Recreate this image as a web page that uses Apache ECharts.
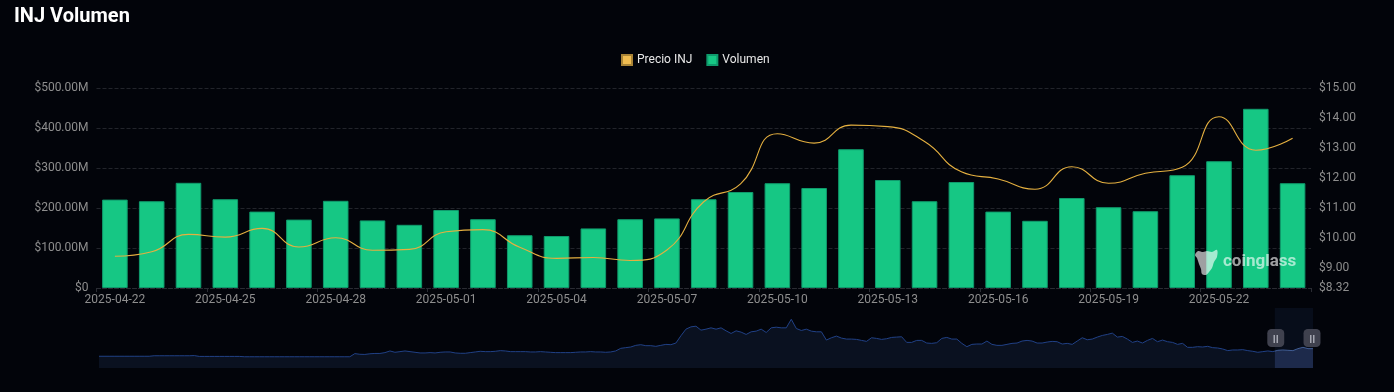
<!DOCTYPE html>
<html><head><meta charset="utf-8">
<style>html,body{margin:0;padding:0;background:#02040a}#c{width:1394px;height:392px}</style>
<script src="https://cdn.jsdelivr.net/npm/echarts@6/dist/echarts.min.js"></script>
</head><body><div id="c"></div>
<script>
const categories = ['2025-04-22','2025-04-23','2025-04-24','2025-04-25','2025-04-26','2025-04-27','2025-04-28','2025-04-29','2025-04-30','2025-05-01','2025-05-02','2025-05-03','2025-05-04','2025-05-05','2025-05-06','2025-05-07','2025-05-08','2025-05-09','2025-05-10','2025-05-11','2025-05-12','2025-05-13','2025-05-14','2025-05-15','2025-05-16','2025-05-17','2025-05-18','2025-05-19','2025-05-20','2025-05-21','2025-05-22','2025-05-23','2025-05-24'];
const volumeM = [221,217,263,222,191,171,218,169,158,195,172,132,130,149,172,174,222,240,262,250,347,270,217,265,191,168,225,202,192,282,317,448,262];
const priceUSD = [9.38,9.53,10.11,10.02,10.31,9.69,10.0,9.58,9.61,10.2,10.27,9.68,9.31,9.34,9.24,9.59,11.2,11.8,13.47,13.16,13.76,13.71,13.21,12.2,11.96,11.62,12.37,11.82,12.15,12.35,14.04,12.92,13.32];
const rightTicks = [8.32,9,10,11,12,13,14,15];
const overviewIndex = [
26,26,26,26,26,26,26,26,26,26,26,
27.5,27.5,27.5,27.5,27.5,27.5,27.5,27.5,28,
25.5,25.5,25.5,25.5,25.5,25.5,25.5,25.5,25.5,
24.5,24.5,24.5,24.5,24.5,24.5,24.5,24.5,24.5,24.5,24.5,24.5,24.5,24.5,24.5,24.5,24.5,24.5,24.5,24.5,24.5,24.5,
34,32,31.5,33.5,34.5,34.5,37,42,
38,40,42,40,38,36,36,37,36,38,39,39,36,35,35,37,39,41,40,40,41,43,42,40,
40,40,40,39,39,40,39,38,37,37,37,37,38,39,39,40,39,39,38,39,42,50,52,54,59,61,58,58,56,59,62,61,66,88,
108,115,117,105,108,112,108,112,103,95,103,99,92,100,102,108,98,112,114,112,112,138,110,104,108,102,100,100,75,82,87,81,78,78,77,74,71,82,80,77,79,83,84,85,68,68,74,74,66,65,67,80,83,78,78,65,55,
62,63,63,72,62,59,59,62,65,66,72,74,72,66,66,69,71,70,63,65,62,72,82,76,78,84,89,92,96,84,86,78,68,72,66,74,80,70,75,70,68,62,65,53,53,55,54,56,52,51,48,43,45,45,46,43,41,38,40,
42,40,44,45,44,43,49,53,49,49];
const overviewSteps = overviewIndex.map((_, i) => String(i));
const FONT = 'Roboto, sans-serif';
const handle = 'path://M4,0 H12 A4,4 0 0 1 16,4 V13 A4,4 0 0 1 12,17 H4 A4,4 0 0 1 0,13 V4 A4,4 0 0 1 4,0 Z';
const chart = echarts.init(document.getElementById('c'), null, {renderer:'canvas'});
const bar2 = (x) => ({type:'rect', left:x, top:335, shape:{width:1.5,height:8}, style:{fill:'#a4a6b0'}, z:200});
chart.setOption({
  animation:false,
  backgroundColor:'#02040a',
  title:{text:'INJ Volumen', left:9, top:2, textStyle:{color:'#fff', fontFamily:FONT, fontSize:20, fontWeight:'bold'}},
  legend:{
    top:49, left:616, icon:'rect', itemWidth:10, itemHeight:10, itemGap:14, selectedMode:false,
    data:['Precio INJ','Volumen'],
    textStyle:{color:'#e8e8e8', fontFamily:FONT, fontSize:12, fontWeight:'normal'}
  },
  grid:[
    {left:96.5, right:83, top:88, bottom:104},
    {left:96.5, width:1214, top:308, height:60, show:false}
  ],
  xAxis:[
    {type:'category', data:categories, gridIndex:0,
     axisLine:{lineStyle:{color:'#2a2c33', type:'dashed'}},
     axisTick:{show:true, interval:2, length:4, lineStyle:{color:'#2a2c33'}},
     axisLabel:{interval:2, color:'#8e8e8e', fontFamily:FONT, fontSize:12, margin:6}},
    {type:'category', data:overviewSteps, gridIndex:1, show:false}
  ],
  yAxis:[
    {type:'value', gridIndex:0, min:0, max:500, interval:100,
     axisLine:{show:false}, axisTick:{show:false},
     splitLine:{lineStyle:{color:'#22242b', type:'dashed'}},
     axisLabel:{color:'#8e8e8e', fontFamily:FONT, fontSize:12, margin:8,
       formatter:v => v === 0 ? '$0' : '$' + v.toFixed(2) + 'M'}},
    {type:'value', gridIndex:0, min:8.32, max:15, position:'right',
     axisLine:{show:false}, axisTick:{show:false}, splitLine:{show:false},
     axisLabel:{color:'#8e8e8e', fontFamily:FONT, fontSize:12, margin:8, customValues:rightTicks,
       formatter:v => '$' + v.toFixed(2)}},
    {type:'value', gridIndex:1, show:false, scale:true}
  ],
  dataZoom:[{
    type:'slider', xAxisIndex:1, filterMode:'none', start:96.85, end:100,
    left:96.5, width:1214, top:308, height:60,
    showDetail:false, brushSelect:false, showDataShadow:true, realtime:false,
    moveHandleSize:0,
    backgroundColor:'rgba(0,0,0,0)', borderColor:'rgba(0,0,0,0)',
    fillerColor:'rgba(40,60,110,0.16)',
    handleIcon:handle, handleSize:'30%',
    handleStyle:{color:'#3f414e', borderColor:'#3f414e', borderWidth:0},
    dataBackground:{lineStyle:{color:'#214186', width:1, opacity:1}, areaStyle:{color:'#0a1120', opacity:1}},
    selectedDataBackground:{lineStyle:{color:'#46649c', width:1, opacity:1}, areaStyle:{color:'#1c2744', opacity:1}}
  }],
  series:[
    {name:'Volumen', type:'bar', xAxisIndex:0, yAxisIndex:0, data:volumeM, barWidth:'69.5%',
     itemStyle:{color:'#16c784', borderColor:'#0f9a6c', borderWidth:1}, z:2},
    {name:'Precio INJ', type:'line', xAxisIndex:0, yAxisIndex:1, data:priceUSD, smooth:0.5, showSymbol:false,
     lineStyle:{color:'#e5b040', width:1.1}, itemStyle:{color:'#f0bc50', borderColor:'#a98436', borderWidth:1}, z:3},
    {name:'Resumen', type:'line', xAxisIndex:1, yAxisIndex:2, data:overviewIndex, showSymbol:false, silent:true,
     lineStyle:{opacity:0}, itemStyle:{opacity:0}}
  ],
  graphic:[
    {type:'polygon', z:100, silent:true,
     shape:{smooth:0.35, points:[[1198,251],[1203,252],[1207,251],[1212,252],[1217,250],[1217,257],[1214,262],[1212,268],[1209,272],[1206,275],[1202,274],[1201,269],[1199,264],[1197,258],[1195,255]]},
     style:{fill:'rgba(255,255,255,0.62)'}},
    {type:'text', z:100, silent:true, left:1223, top:253,
     style:{text:'coinglass', fill:'rgba(255,255,255,0.62)', font:'bold 17px '+FONT}},
    bar2(1273.5), bar2(1276.5), bar2(1310), bar2(1313)
  ]
});
</script></body></html>
